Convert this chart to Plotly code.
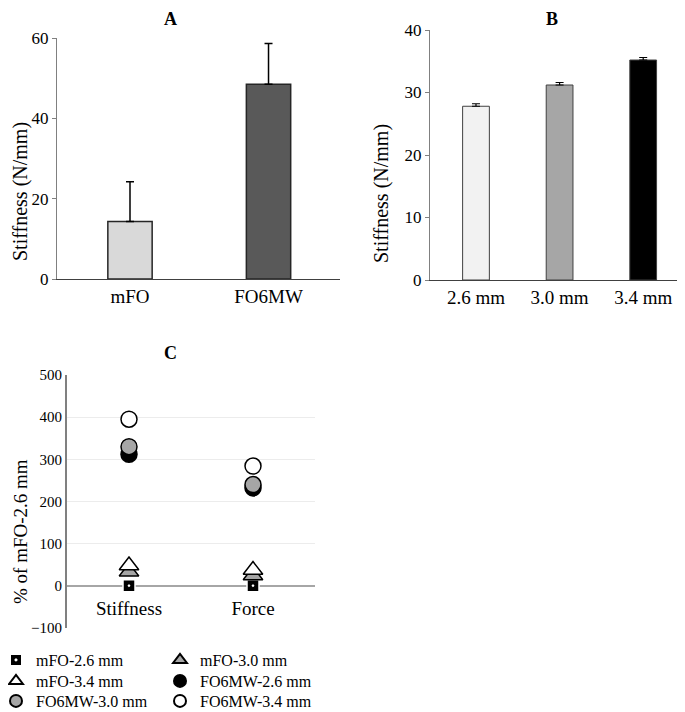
import plotly.graph_objects as go

# ---------------- data ----------------
groups_a = ["mFO", "FO6MW"]
stiff_a = [14.3, 48.5]
err_a = [9.9, 10.1]

sizes_b = ["2.6 mm", "3.0 mm", "3.4 mm"]
stiff_b = [27.8, 31.2, 35.2]
err_b = [0.4, 0.4, 0.4]

metrics_c = ["Stiffness", "Force"]
series_names = ["mFO-2.6 mm", "mFO-3.0 mm", "mFO-3.4 mm",
                "FO6MW-2.6 mm", "FO6MW-3.0 mm", "FO6MW-3.4 mm"]
mfo_26 = [0, 0]
mfo_30 = [33, 24]
mfo_34 = [48, 37]
fo6mw_26 = [312, 232]
fo6mw_30 = [330, 240]
fo6mw_34 = [395, 284]
series_values = [mfo_26, mfo_30, mfo_34, fo6mw_26, fo6mw_30, fo6mw_34]

# ---------------- styles ----------------
PAGE_OFF = 8            # default body margin of the html page
W, H = 685 - PAGE_OFF, 712 - PAGE_OFF
FONT = "Liberation Serif, Times New Roman, serif"
colors_a = ["#d9d9d9", "#595959"]
colors_b = ["#f2f2f2", "#a6a6a6", "#000000"]
styles_c = [
    dict(symbol="square-dot", size=12, color="#000000", line=dict(color="#ffffff", width=1.5)),
    dict(symbol="triangle-up", size=17, color="#a6a6a6", line=dict(color="#000000", width=1.5)),
    dict(symbol="triangle-up", size=17, color="#ffffff", line=dict(color="#000000", width=1.5)),
    dict(symbol="circle", size=16, color="#000000", line=dict(color="#000000", width=1.5)),
    dict(symbol="circle", size=16, color="#a6a6a6", line=dict(color="#000000", width=1.5)),
    dict(symbol="circle", size=16, color="#ffffff", line=dict(color="#000000", width=1.5)),
]
legend_ids = ["legend", "legend2", "legend3", "legend4", "legend5", "legend6"]
legend_cols_px = [-4, 160]          # left edge of each legend column (screen px)
legend_rows_px = [660, 681, 701]    # centre of each legend row (screen px)


def fx(px):
    return (px - PAGE_OFF) / W


def fy(py):
    return 1 - (py - PAGE_OFF) / H


fig = go.Figure()

# Panel A
fig.add_trace(go.Bar(
    x=groups_a, y=stiff_a, width=0.32,
    marker=dict(color=colors_a, line=dict(color="#262626", width=1.5)),
    error_y=dict(type="data", array=err_a, arrayminus=[0, 0], symmetric=False,
                 color="#000000", thickness=1.5, width=4),
    xaxis="x", yaxis="y", showlegend=False, hoverinfo="x+y"))

# Panel B
fig.add_trace(go.Bar(
    x=sizes_b, y=stiff_b, width=0.32,
    marker=dict(color=colors_b, line=dict(color="#404040", width=1)),
    error_y=dict(type="data", array=err_b, arrayminus=[0, 0, 0], symmetric=False,
                 color="#000000", thickness=1.2, width=4),
    xaxis="x2", yaxis="y2", showlegend=False, hoverinfo="x+y"))

# Panel C
for name, vals, st, lg in zip(series_names, series_values, styles_c, legend_ids):
    fig.add_trace(go.Scatter(
        x=metrics_c, y=vals, mode="markers", name=name,
        marker=st, xaxis="x3", yaxis="y3", legend=lg))

tick_font = dict(family=FONT, size=17, color="#000000")
cat_font = dict(family=FONT, size=19, color="#000000")

zero_px_c = 627.8 - (627.8 - 375) * (100 / 600)
label_axis_frac = fy(zero_px_c + 9)

legends = {}
for i, lid in enumerate(legend_ids):
    row, col = divmod(i, 2)
    legends[lid] = dict(x=fx(legend_cols_px[col]), y=fy(legend_rows_px[row]),
                        xanchor="left", yanchor="middle",
                        font=dict(family=FONT, size=16), itemsizing="constant",
                        bgcolor="rgba(0,0,0,0)")


def title_ann(text, xpx, ypx, size=19, angle=0, bold=False):
    return dict(text=f"<b>{text}</b>" if bold else text,
                x=fx(xpx), y=fy(ypx), xref="paper", yref="paper",
                xanchor="center", yanchor="middle", textangle=angle,
                showarrow=False, font=dict(family=FONT, size=size, color="#000000"))


fig.update_layout(
    width=W, height=H,
    margin=dict(l=0, r=0, t=0, b=0, autoexpand=False),
    paper_bgcolor="#ffffff", plot_bgcolor="#ffffff",
    font=dict(family=FONT, color="#000000"),
    xaxis=dict(domain=[fx(57), fx(340)], range=[-0.527, 1.516], anchor="y",
               showline=True, linecolor="#404040", linewidth=1.2,
               ticks="", tickfont=cat_font, showgrid=False),
    yaxis=dict(domain=[fy(279), fy(38)], range=[0, 60], anchor="x",
               tickvals=[0, 20, 40, 60], showline=True, linecolor="#808080",
               linewidth=1.2, ticks="outside", ticklen=4, tickcolor="#808080",
               tickfont=tick_font, showgrid=False, zeroline=False),
    xaxis2=dict(domain=[fx(430), 1.0], range=[-0.55, 2.5], anchor="y2",
                showline=True, linecolor="#404040", linewidth=1.2,
                ticks="", tickfont=cat_font, showgrid=False),
    yaxis2=dict(domain=[fy(280), fy(30)], range=[0, 40], anchor="x2",
                tickvals=[0, 10, 20, 30, 40], showline=True, linecolor="#808080",
                linewidth=1.2, ticks="outside", ticklen=4, tickcolor="#808080",
                tickfont=tick_font, showgrid=False, zeroline=False),
    xaxis3=dict(domain=[fx(67), fx(315)], range=[-0.5, 1.5], anchor="free",
                position=label_axis_frac, showline=False, ticks="",
                tickfont=cat_font, showgrid=False),
    yaxis3=dict(domain=[fy(627.8), fy(375)], range=[-100, 500], anchor="x3",
                tickvals=[-100, 0, 100, 200, 300, 400, 500],
                showline=True, linecolor="#808080", linewidth=2, ticks="",
                tickfont=dict(family=FONT, size=15), showgrid=True,
                gridcolor="#ececec", gridwidth=1, zeroline=True,
                zerolinecolor="#a6a6a6", zerolinewidth=1.5),
    annotations=[
        title_ann("A", 170, 19, size=18, bold=True),
        title_ann("B", 552, 19, size=18, bold=True),
        title_ann("C", 170, 353, size=18, bold=True),
        title_ann("Stiffness (N/mm)", 20, 192, size=20, angle=-90),
        title_ann("Stiffness (N/mm)", 382, 194, size=20, angle=-90),
        title_ann("% of mFO-2.6 mm", 20, 532, size=19, angle=-90),
    ],
    **legends,
)

fig.write_html("out.html")
